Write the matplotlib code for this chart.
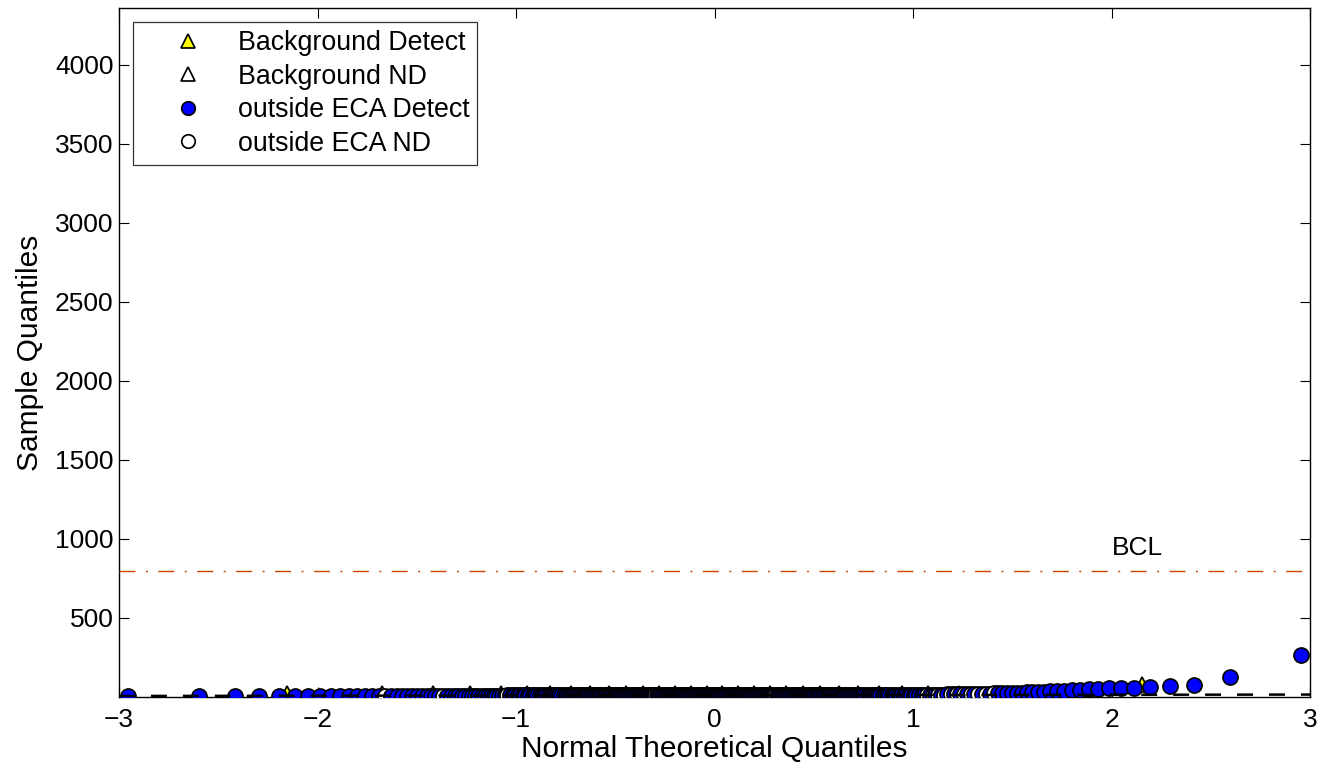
import numpy as np
import matplotlib
matplotlib.use('Agg')
import matplotlib.pyplot as plt
from statistics import NormalDist

# ---------------- data ----------------
background_detect = [25, 80]
background_nd = [28, 28, 28, 28, 28, 28, 28, 28, 28, 28,
                 28, 28, 28, 28, 28, 28, 28, 28, 28, 28,
                 28, 28, 28, 28, 28, 28, 28, 28, 28, 28]

outside_detect = [4, 5, 5, 5, 6, 6, 6, 6, 7, 7,
                  7, 7, 7, 7, 7, 8, 8, 8, 8, 8,
                  8, 8, 8, 8, 8, 8, 9, 9, 9, 9,
                  9, 9, 9, 9, 9, 9, 9, 9, 9, 9,
                  9, 9, 9, 9, 9,
                  10, 10, 10, 10, 10, 10, 10, 10, 10, 10,
                  10, 10, 10, 10, 10, 10, 10, 10, 10, 10,
                  10, 10, 10, 10, 10, 10, 10, 10, 10, 10,
                  10, 10, 10, 10, 10, 10, 10, 10, 10, 10,
                  10, 10, 10, 10, 10, 10, 10, 10, 10, 10,
                  10, 10, 10, 10, 10, 10, 10, 10, 10, 10,
                  10, 10, 10, 10, 10, 10, 10, 10, 10, 10,
                  10, 10, 10, 10,
                  11, 11, 11, 11, 11, 11, 11, 11, 11, 11,
                  11, 11, 11, 11, 11, 11, 11, 11, 11, 11,
                  11, 11, 11, 11, 11, 11, 11, 11, 11, 11,
                  11, 11, 11, 11, 11, 11, 11, 11, 11, 11,
                  11, 11, 11, 11, 11, 11, 11, 11, 11, 11,
                  11, 11, 11, 11, 11, 11, 11, 11, 11, 11,
                  11, 11, 11, 11, 11, 11, 11, 11, 11, 11,
                  11, 11, 11, 11, 11,
                  12, 12, 12, 12, 12, 12, 12, 12, 12, 12,
                  12, 12, 12, 12, 12, 12, 12, 12, 12, 12,
                  12, 12, 12, 12, 12, 12, 12, 12, 12, 12,
                  12, 12, 12, 12, 12, 12, 12, 12, 12, 12,
                  12, 12, 12, 12, 12, 12, 12, 12, 12, 12,
                  12, 12, 12, 12, 12, 12, 12, 12, 12, 12,
                  12, 12, 12, 12, 12, 12, 12, 12, 12, 12,
                  12, 12, 12, 12, 12,
                  13, 14, 15, 16, 17, 18, 19, 20, 21, 22,
                  23, 24, 25, 26, 27, 28, 29, 30, 32, 34,
                  36, 38, 40, 42, 45, 48, 50, 55, 57, 60,
                  63, 70, 76, 127, 266]
outside_nd = [7.5, 8.5, 9.5, 10.5, 11.5, 12.5, 13.5, 14.5,
              15.5, 16.5, 17.5, 18.5, 19.5, 20.5, 21.5, 22.5]

bcl_value = 800
bcl_label = "BCL"
x_ticks = [-3, -2, -1, 0, 1, 2, 3]
y_ticks = [500, 1000, 1500, 2000, 2500, 3000, 3500, 4000]
x_label = "Normal Theoretical Quantiles"
y_label = "Sample Quantiles"
legend_labels = ["Background Detect", "Background ND",
                 "outside ECA Detect", "outside ECA ND"]


def qq_positions(detect, nd):
    vals = np.array(list(detect) + list(nd), dtype=float)
    flag = np.array([0] * len(detect) + [1] * len(nd))
    order = np.argsort(vals, kind='stable')
    n = len(vals)
    nd_dist = NormalDist()
    x = np.array([nd_dist.inv_cdf((i - 0.5) / n) for i in range(1, n + 1)])
    return x, vals[order], flag[order]


plt.rcParams['font.family'] = ['Liberation Sans', 'DejaVu Sans']
plt.rcParams['lines.scale_dashes'] = False

fig = plt.figure(figsize=(13.31, 7.71), dpi=100)
ax = fig.add_axes([119 / 1331, 74 / 771, 1191 / 1331, 689 / 771])

bx, by, bf = qq_positions(background_detect, background_nd)
ox, oy, of = qq_positions(outside_detect, outside_nd)

ms = 10.8
mew = 1.25
h1, = ax.plot(bx[bf == 0], by[bf == 0], '^', ms=ms, mfc=(1, 1, 0), mec='k', mew=mew, ls='none', zorder=2)
h2, = ax.plot(bx[bf == 1], by[bf == 1], '^', ms=ms, mfc='w', mec='k', mew=mew, ls='none', zorder=2)
# draw circles point by point (left to right) so each overlaps the previous one
xs_order = np.argsort(ox)
h3 = h4 = None
for k in xs_order:
    if of[k] == 0:
        h, = ax.plot(ox[k], oy[k], 'o', ms=ms, mfc=(0, 0, 1), mec='k', mew=mew, ls='none', zorder=3)
        h3 = h if h3 is None else h3
    else:
        h, = ax.plot(ox[k], oy[k], 'o', ms=ms, mfc='w', mec='k', mew=mew, ls='none', zorder=3)
        h4 = h if h4 is None else h4

# reference line through the quartiles (qqplot style)
q1, q3 = np.percentile(oy, [25, 75])
z1, z3 = NormalDist().inv_cdf(0.25), NormalDist().inv_cdf(0.75)
slope = (q3 - q1) / (z3 - z1)
inter = q1 - slope * z1
xl = np.array([-3, 3])
ax.plot(xl, inter + slope * xl, color='k', lw=1.8, ls=(0, (11.5, 11.5)), zorder=5)

# BCL line
ax.plot(xl, [bcl_value, bcl_value], color=(0.8, 0.27, 0.0), lw=1.0,
        ls=(0, (11.5, 7.5, 1.5, 7.5)), zorder=4)
ax.text(2.13, bcl_value + 146, bcl_label, ha='center', va='center', fontsize=19)

ax.set_xlim(-3, 3)
ax.set_ylim(0, 4360)
ax.set_xticks(x_ticks)
ax.set_yticks(y_ticks)
ax.tick_params(direction='in', length=7, width=0.8, top=True, right=True,
               labelsize=19)
ax.tick_params(axis='y', pad=4)
ax.tick_params(axis='x', pad=8)
for s in ax.spines.values():
    s.set_linewidth(1.0)
ax.set_xlabel(x_label, fontsize=21.5, labelpad=2)
ax.set_ylabel(y_label, fontsize=21.5, labelpad=8)

leg = ax.legend([h1, h2, h3, h4], legend_labels, loc='upper left',
                bbox_to_anchor=(14 / 1191, 1 - 14 / 689), borderaxespad=0,
                fontsize=19.3, frameon=True, fancybox=False, edgecolor='k',
                handlelength=3.5, handletextpad=0.1, borderpad=0.3,
                labelspacing=0.28, markerscale=0.9)
leg.get_frame().set_linewidth(0.9)

fig.savefig('out.png', dpi=100)
